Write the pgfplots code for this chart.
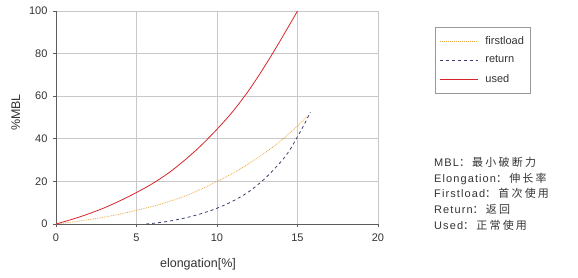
\documentclass[border=0pt]{standalone}
\usepackage{pgfplots}
\pgfplotsset{compat=1.18}
\usepackage{fontspec}
\setmainfont{Liberation Sans}
\newfontfamily\cjk[LetterSpace=20]{Noto Sans CJK SC}
\newfontfamily\notefont[LetterSpace=10]{Liberation Sans}
\definecolor{txt}{HTML}{333333}
\definecolor{gridc}{HTML}{C8C8C8}
\definecolor{usedc}{HTML}{D6262B}
\definecolor{firstc}{HTML}{EBA840}
\definecolor{retc}{HTML}{3A3F6E}
\begin{document}
\begin{tikzpicture}
\path (0pt,0pt) rectangle (578pt,278pt);
\begin{axis}[
  at={(56pt,54pt)}, anchor=south west,
  width=322pt, height=213pt, scale only axis,
  xmin=0, xmax=20, ymin=0, ymax=100,
  xtick={0,5,10,15,20}, ytick={0,20,40,60,80,100},
  grid=major, major grid style={gridc, line width=0.6pt},
  axis x line*=bottom, axis y line*=left,
  axis line style={txt!80, line width=0.8pt},
  tick style={txt!80, line width=0.6pt}, tick align=outside, major tick length=3pt,
  ticklabel style={font=\fontsize{11}{13}\selectfont, text=txt},
  xticklabel style={yshift=-3pt},
  yticklabel style={xshift=-2pt},
  /pgf/number format/assume math mode=true,
  xlabel={elongation[\%]}, ylabel={\%MBL},
  label style={font=\fontsize{12.5}{15}\selectfont, text=txt},
  xlabel style={yshift=-10pt, xshift=-19pt},
  ylabel style={yshift=2pt, xshift=5pt},
  legend style={at={(1.177,0.925)}, anchor=north west, draw=gray!80, line width=0.8pt,
    font=\fontsize{11}{13}\selectfont, inner xsep=4pt, inner ysep=7pt,
    row sep=6pt, /tikz/every odd column/.append style={column sep=5pt}},
  legend cell align=left,
]
\addplot[firstc, densely dotted, line width=0.8pt, smooth,
  legend image code/.code={\draw[firstc, densely dotted, line width=1pt] (0pt,0pt) -- (38pt,0pt);}] coordinates {
(0,0) (1,0.93) (2,2.0) (3,3.25) (4,4.7) (5,6.4) (6,8.3) (7,10.5) (8,13.1) (9,16.3) (10,20) (11,23.9) (12,28.4) (13,33.5) (14,39.3) (15,46) (15.6,50.5)};
\addlegendentry{\textcolor{txt}{firstload}}
\addplot[retc, dashed, line width=0.8pt, smooth,
  legend image code/.code={\draw[retc, dashed, line width=1pt] (0pt,0pt) -- (38pt,0pt);}] coordinates {
(5.6,0) (6,0.3) (7,1.3) (8,2.8) (9,4.8) (10,7.4) (11,10.8) (12,15.3) (13,21.5) (14,29.5) (14.5,34.5) (15,41) (15.4,46.5) (15.8,52.5)};
\addlegendentry{\textcolor{txt}{return}}
\addplot[usedc, line width=0.8pt, smooth,
  legend image code/.code={\draw[usedc, line width=1pt] (0pt,0pt) -- (38pt,0pt);}] coordinates {
(0,0) (1,2.2) (2,4.7) (3,7.6) (4,11) (5,14.8) (6,19) (7,24) (8,30) (9,36.8) (10,44.5) (11,53) (12,63) (13,74.5) (14,87) (15,100)};
\addlegendentry{\textcolor{txt}{used}}
\end{axis}
\node[anchor=north west, align=left, inner sep=0pt, text=txt, font=\fontsize{11}{15.7}\selectfont] at (434pt,121pt) {%
\notefont MBL{\cjk：最小破断力}\\
\notefont Elongation{\cjk：伸长率}\\
\notefont Firstload{\cjk：首次使用}\\
\notefont Return{\cjk：返回}\\
\notefont Used{\cjk：正常使用}};
\end{tikzpicture}
\end{document}
